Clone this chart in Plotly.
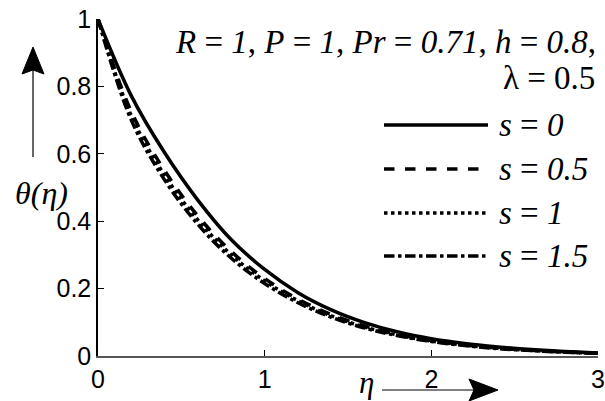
import plotly.graph_objects as go

eta = [0.0, 0.2, 0.4, 0.6, 0.8, 1.0, 1.2, 1.4, 1.6, 1.8, 2.0, 2.2, 2.4, 2.6, 2.8, 3.0]
theta_s0 = [1.0, 0.772, 0.603, 0.462, 0.345, 0.257, 0.188, 0.137, 0.099, 0.071, 0.051, 0.037, 0.027, 0.019, 0.013, 0.009]
theta_s05 = [1.0, 0.725, 0.550, 0.415, 0.310, 0.230, 0.169, 0.123, 0.089, 0.064, 0.046, 0.033, 0.024, 0.017, 0.012, 0.0085]
theta_s1 = [1.0, 0.713, 0.536, 0.403, 0.300, 0.223, 0.164, 0.119, 0.086, 0.062, 0.044, 0.032, 0.023, 0.0165, 0.0114, 0.0082]
theta_s15 = [1.0, 0.70, 0.522, 0.39, 0.29, 0.215, 0.158, 0.115, 0.083, 0.060, 0.043, 0.031, 0.022, 0.016, 0.011, 0.008]

labels = ["<i>s</i> = <i>0</i>", "<i>s</i> = <i>0.5</i>", "<i>s</i> = <i>1</i>", "<i>s</i> = <i>1.5</i>"]
dashes = ["solid", "dash", "dot", "dashdot"]
series = [theta_s0, theta_s05, theta_s1, theta_s15]

x_ticks = [0, 1, 2, 3]
y_ticks = [0, 0.2, 0.4, 0.6, 0.8, 1]
y_ticklabels = ["0", "0.2", "0.4", "0.6", "0.8", "1"]

W, H = 605, 401
L, R, T, B = 98, 598, 19, 356


def px(x):
    return (x - L) / (R - L)


def py(y):
    return (B - y) / (B - T)


fig = go.Figure()
for vals, d in zip(series, dashes):
    fig.add_trace(go.Scatter(x=eta, y=vals, mode="lines", line_shape="spline",
                             line=dict(color="black", width=3.5, dash=d),
                             showlegend=False, cliponaxis=False))

shapes = []
annotations = []
serif = "Liberation Serif, Times New Roman, serif"

# legend samples
leg_rows = [125, 169, 213, 256]
for yy, d, lab in zip(leg_rows, dashes, labels):
    shapes.append(dict(type="line", xref="paper", yref="paper",
                       x0=px(384), x1=px(488), y0=py(yy), y1=py(yy),
                       line=dict(color="black", width=3.5, dash=d)))
    annotations.append(dict(xref="paper", yref="paper", x=px(497), y=py(yy),
                            xanchor="left", yanchor="middle", showarrow=False,
                            text=lab, font=dict(family=serif, size=33, color="black")))

annotations.append(dict(xref="paper", yref="paper", x=px(598), y=py(42),
                        xanchor="right", yanchor="middle", showarrow=False,
                        text="<i>R</i> = <i>1</i>, <i>P</i> = <i>1</i>, <i>Pr</i> = <i>0.71</i>, <i>h</i> = <i>0.8</i>,",
                        font=dict(family=serif, size=33, color="black")))
annotations.append(dict(xref="paper", yref="paper", x=px(597), y=py(78),
                        xanchor="right", yanchor="middle", showarrow=False,
                        text="λ = 0.5",
                        font=dict(family=serif, size=33, color="black")))

# axis titles
annotations.append(dict(xref="paper", yref="paper", x=px(41), y=py(193),
                        xanchor="center", yanchor="middle", showarrow=False,
                        text="<i>θ(η)</i>", font=dict(family=serif, size=32, color="black")))
annotations.append(dict(xref="paper", yref="paper", x=px(366), y=py(382),
                        xanchor="center", yanchor="middle", showarrow=False,
                        text="<i>η</i>", font=dict(family=serif, size=31, color="black")))

# arrows
shapes.append(dict(type="line", xref="paper", yref="paper",
                   x0=px(33), x1=px(33), y0=py(157), y1=py(70),
                   line=dict(color="black", width=1.2)))
shapes.append(dict(type="path", xref="paper", yref="paper",
                   path=f"M {px(33)} {py(47)} L {px(22)} {py(74)} L {px(33)} {py(70)} L {px(44)} {py(74)} Z",
                   fillcolor="black", line=dict(color="black", width=1)))
shapes.append(dict(type="line", xref="paper", yref="paper",
                   x0=px(382), x1=px(475), y0=py(390), y1=py(390),
                   line=dict(color="black", width=1.2)))
shapes.append(dict(type="path", xref="paper", yref="paper",
                   path=f"M {px(498)} {py(390)} L {px(469)} {py(379)} L {px(474)} {py(390)} L {px(469)} {py(401)} Z",
                   fillcolor="black", line=dict(color="black", width=1)))

tickfont = dict(family="Liberation Sans, Arial, sans-serif", size=25, color="black")
fig.update_layout(
    width=W, height=H,
    margin=dict(l=L, r=W - R, t=T, b=H - B, pad=0),
    paper_bgcolor="white", plot_bgcolor="white",
    shapes=shapes, annotations=annotations,
    xaxis=dict(range=[0, 3], tickvals=x_ticks, ticktext=[str(v) for v in x_ticks],
               ticks="inside", ticklen=6, tickcolor="black", showgrid=False, zeroline=False,
               showline=True, linecolor="#555555", linewidth=1.5, automargin=False,
               tickfont=tickfont),
    yaxis=dict(range=[0, 1], tickvals=y_ticks, ticktext=y_ticklabels,
               ticks="inside", ticklen=6, tickcolor="black", showgrid=False, zeroline=False,
               showline=True, linecolor="black", linewidth=1.5, automargin=False,
               tickfont=tickfont),
)

fig.write_html("out.html", config={"displayModeBar": False},
               post_script="document.body.style.margin='0';document.body.style.overflow='hidden';")
